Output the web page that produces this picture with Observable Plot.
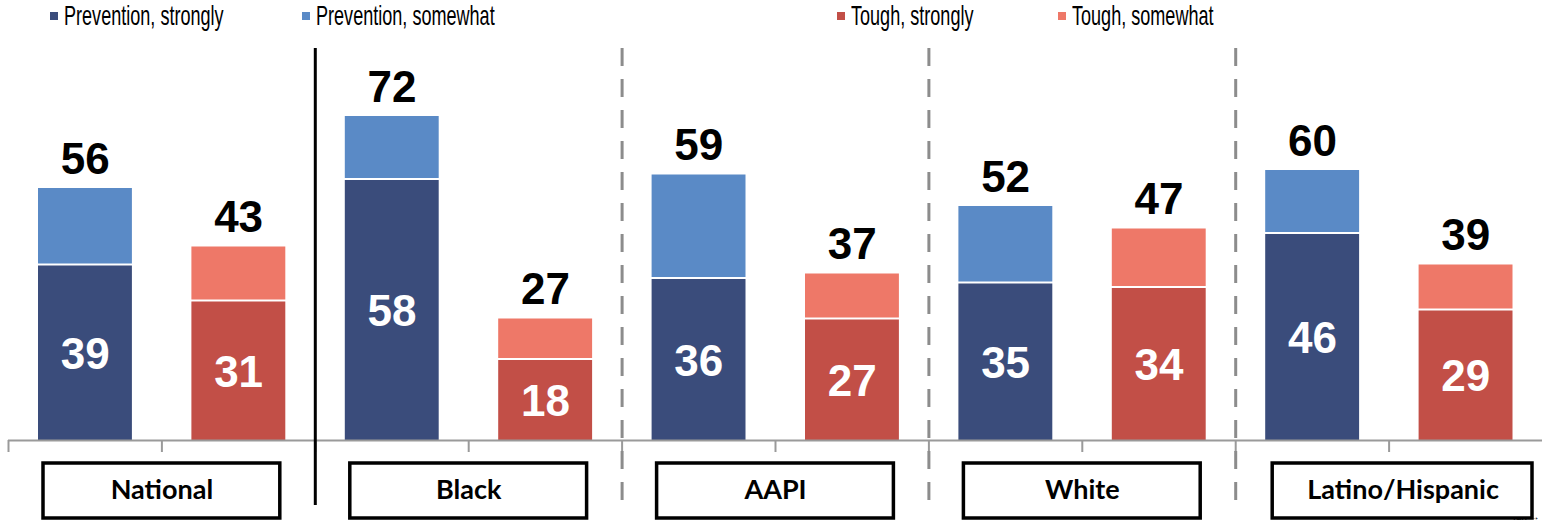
<!DOCTYPE html>
<html><head><meta charset="utf-8">
<script src="https://cdn.jsdelivr.net/npm/d3@7"></script>
<script src="https://cdn.jsdelivr.net/npm/@observablehq/plot@0.6"></script>
<style>
body{margin:0;background:#fff;width:1542px;height:522px;overflow:hidden;position:relative;font-family:"Liberation Sans",Arial,sans-serif}
#legend{position:absolute;top:0;left:0;width:1542px;height:34px;z-index:2}
.item{position:absolute;top:1px;height:30px;display:flex;align-items:center;font-family:"Liberation Sans Narrow","Arial Narrow","Liberation Sans",sans-serif;font-size:28px;color:#000;white-space:nowrap}
.sw{width:8px;height:8px;margin-right:6px;flex:none}
.lbl{display:inline-block;transform:scaleX(0.645);transform-origin:left center}
#chart{position:absolute;top:0;left:0}
</style></head><body>
<div id="legend"></div><div id="chart"></div>
<script>
const groups = ["National", "Black", "AAPI", "White", "Latino/Hispanic"];
const preventionStrongly = [39, 58, 36, 35, 46];
const preventionTotal = [56, 72, 59, 52, 60];
const toughStrongly = [31, 18, 27, 34, 29];
const toughTotal = [43, 27, 37, 47, 39];
const seriesNames = ["Prevention, strongly", "Prevention, somewhat", "Tough, strongly", "Tough, somewhat"];
const seriesColors = ["#3a4c7b", "#5a8ac6", "#c24f47", "#ee7868"];

// legend
const legendLeft = [50, 302, 837, 1058];
const leg = document.getElementById("legend");
seriesNames.forEach((n, i) => {
  const it = document.createElement("div");
  it.className = "item";
  it.style.left = legendLeft[i] + "px";
  const sw = document.createElement("span");
  sw.className = "sw"; sw.style.background = seriesColors[i];
  it.appendChild(sw);
  const t = document.createElement("span");
  t.className = "lbl"; t.textContent = n;
  it.appendChild(t);
  leg.appendChild(it);
});

// rows
const bars = [];
groups.forEach((g, i) => {
  bars.push({group: g, idx: 2 * i, strong: preventionStrongly[i], total: preventionTotal[i], sStrong: seriesNames[0], sSome: seriesNames[1]});
  bars.push({group: g, idx: 2 * i + 1, strong: toughStrongly[i], total: toughTotal[i], sStrong: seriesNames[2], sSome: seriesNames[3]});
});
const groupRows = groups.map((g, i) => ({group: g, i}));
const mainGroups = groupRows.slice(0, 4);
const lastGroup = groupRows.slice(4);

const numFont = {fontFamily: "'Liberation Sans', Arial, sans-serif", fontWeight: "bold", fontSize: 44};
const boxLabel = {fontFamily: "Lato, 'Open Sans', sans-serif", fontWeight: "bold", fontSize: 27, fill: "#000"};

const chart = Plot.plot({
  width: 1542, height: 522,
  marginTop: 80, marginBottom: 82, marginLeft: 8, marginRight: 0,
  x: {type: "linear", domain: [0, 10]},
  y: {domain: [0, 80], axis: null},
  color: {domain: seriesNames, range: seriesColors},
  style: {background: "transparent", overflow: "visible"},
  marks: [
    Plot.rect(bars, {x1: "idx", x2: d => d.idx + 1, y1: 0, y2: "strong", fill: "sStrong", insetLeft: 30, insetRight: 29.5, insetTop: 1}),
    Plot.rect(bars, {x1: "idx", x2: d => d.idx + 1, y1: "strong", y2: "total", fill: "sSome", insetLeft: 30, insetRight: 29.5, insetBottom: 1}),
    Plot.ruleY([0], {stroke: "#9a9a9a", strokeWidth: 2}),
    Plot.axisX(d3.range(0, 10), {tickSize: 12, tickFormat: () => "", stroke: "#9a9a9a", strokeWidth: 2}),
    Plot.text(bars, {x: d => d.idx + 0.5, y: "total", text: d => String(d.total), lineAnchor: "bottom", dy: -15, fill: "#000", ...numFont}),
    Plot.text(bars, {x: d => d.idx + 0.5, y: d => d.strong / 2, text: d => String(d.strong), lineAnchor: "middle", dy: 2, fill: "#fff", ...numFont}),
    Plot.ruleX([2], {stroke: "#000", strokeWidth: 3, insetTop: -32, insetBottom: -65}),
    Plot.ruleX([4, 6, 8], {stroke: "#8c8c8c", strokeWidth: 3, strokeDasharray: "18,13", insetTop: -32, insetBottom: -63}),
    Plot.rect(mainGroups, {x1: d => 2 * d.i, x2: d => 2 * d.i + 2, insetLeft: 35, insetRight: 35, insetTop: 383, insetBottom: -78, fill: "#fff", stroke: "#000", strokeWidth: 3.5}),
    Plot.rect(lastGroup, {x1: d => 2 * d.i, x2: d => 2 * d.i + 2, insetLeft: 37, insetRight: 10, insetTop: 383, insetBottom: -78, fill: "#fff", stroke: "#000", strokeWidth: 3.5}),
    Plot.text(mainGroups, {x: d => 2 * d.i + 1, text: "group", frameAnchor: "bottom", dy: 50, lineAnchor: "middle", ...boxLabel}),
    Plot.text(lastGroup, {x: d => 2 * d.i + 1, text: "group", frameAnchor: "bottom", dy: 50, dx: 14, lineAnchor: "middle", ...boxLabel})
  ]
});
document.getElementById("chart").appendChild(chart);
</script>
</body></html>
